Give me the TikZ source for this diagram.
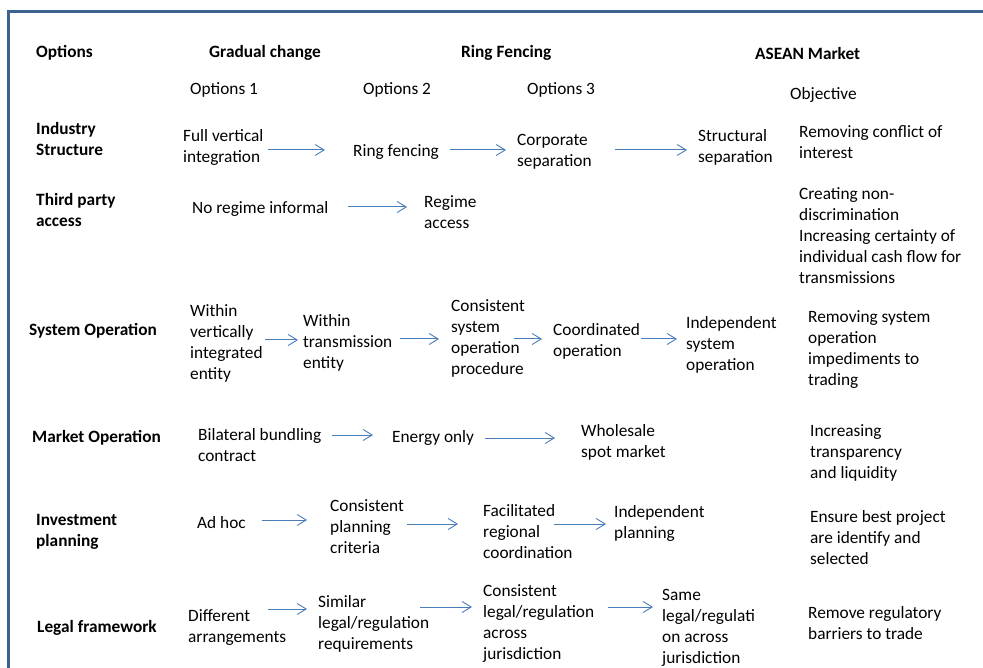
\documentclass[tikz,border=0pt]{standalone}
\usepackage{fontspec}
\setmainfont{Carlito}
\usetikzlibrary{arrows.meta}
\definecolor{framec}{RGB}{60,98,146}
\definecolor{arrc}{RGB}{74,126,187}
\newcommand\fsz{\fontsize{17.3}{21}\selectfont}
\tikzset{
  txt/.style={anchor=west, align=left, inner sep=0pt, yshift=-2pt, font=\fsz},
  hd/.style={anchor=west, align=left, inner sep=0pt, yshift=-2pt, font=\fsz\bfseries},
  arr/.style={draw=arrc, line width=1pt, -{Straight Barb[length=9pt,width=11pt,line width=0.9pt]}},
}
\begin{document}
\begin{tikzpicture}[x=1pt,y=-1pt]
\useasboundingbox (0,0) rectangle (983,668);
\fill[white] (0,0) rectangle (983,668);
\draw[framec, line width=3pt] (8,668) -- (8,12) -- (983,12);

% headers
\node[hd] (h1) at (36,51) {Options};
\node[hd] (h2) at (209,51) {Gradual change};
\node[hd] (h3) at (461,51) {Ring Fencing};
\node[hd] (h4) at (755,51) {ASEAN Market};
\node[txt] (o1) at (190,88) {Options 1};
\node[txt] (o2) at (363,88) {Options 2};
\node[txt] (o3) at (527,88) {Options 3};
\node[txt] (obj) at (790,93) {Objective};

% row labels
\node[hd] (r1) at (36,137) {Industry\\Structure};
\node[hd] (r2) at (36,208) {Third party\\access};
\node[hd] (r3) at (29,329) {System Operation};
\node[hd] (r4) at (32,436) {Market Operation};
\node[hd] (r5) at (36,530) {Investment\\planning};
\node[hd] (r6) at (37,626) {Legal framework};

% row 1
\node[txt] (a11) at (183,145) {Full vertical\\integration};
\node[txt] (a12) at (353,150) {Ring fencing};
\node[txt] (a13) at (517,150) {Corporate\\separation};
\node[txt] (a14) at (698,145) {Structural\\separation};
\node[txt] (g1) at (799,140) {Removing conflict of\\interest};
\coordinate (s11) at (268,150); \coordinate (e11) at (325,150);
\coordinate (s12) at (450,150); \coordinate (e12) at (506,150);
\coordinate (s13) at (615,150); \coordinate (e13) at (687,150);
\draw[arr] (s11) -- (e11);
\draw[arr] (s12) -- (e12);
\draw[arr] (s13) -- (e13);

% row 2
\node[txt] (a21) at (192,207) {No regime informal};
\node[txt] (a22) at (424,210) {Regime\\access};
\node[txt] (g2) at (799,234) {Creating non-\\discrimination\\Increasing certainty of\\individual cash flow for\\transmissions};
\coordinate (s21) at (348,207); \coordinate (e21) at (407,207);
\draw[arr] (s21) -- (e21);

% row 3
\node[txt] (a31) at (190,341) {Within\\vertically\\integrated\\entity};
\node[txt] (a32) at (303,341) {Within\\transmission\\entity};
\node[txt] (a33) at (451,336) {Consistent\\system\\operation\\procedure};
\node[txt] (a34) at (553,339) {Coordinated\\operation};
\node[txt] (a35) at (686,343) {Independent\\system\\operation};
\node[txt] (g3) at (808,348) {Removing system\\operation\\impediments to\\trading};
\coordinate (s31) at (265,340); \coordinate (e31) at (298,340);
\coordinate (s32) at (400,339); \coordinate (e32) at (439,339);
\coordinate (s33) at (514,339); \coordinate (e33) at (542,339);
\coordinate (s34) at (641,339); \coordinate (e34) at (677,339);
\draw[arr] (s31) -- (e31);
\draw[arr] (s32) -- (e32);
\draw[arr] (s33) -- (e33);
\draw[arr] (s34) -- (e34);

% row 4
\node[txt] (a41) at (198,443) {Bilateral bundling\\contract};
\node[txt] (a42) at (392,436) {Energy only};
\node[txt] (a43) at (581,440) {Wholesale\\spot market};
\node[txt] (g4) at (810,451) {Increasing\\transparency\\and liquidity};
\coordinate (s41) at (332,435); \coordinate (e41) at (373,435);
\coordinate (s42) at (485,438); \coordinate (e42) at (555,438);
\draw[arr] (s41) -- (e41);
\draw[arr] (s42) -- (e42);

% row 5
\node[txt] (a51) at (197,521) {Ad hoc};
\node[txt] (a52) at (330,525) {Consistent\\planning\\criteria};
\node[txt] (a53) at (483,530) {Facilitated\\regional\\coordination};
\node[txt] (a54) at (614,521) {Independent\\planning};
\node[txt] (g5) at (810,536) {Ensure best project\\are identify and\\selected};
\coordinate (s51) at (262,520); \coordinate (e51) at (307,520);
\coordinate (s52) at (407,524); \coordinate (e52) at (458,524);
\coordinate (s53) at (554,524); \coordinate (e53) at (606,524);
\draw[arr] (s51) -- (e51);
\draw[arr] (s52) -- (e52);
\draw[arr] (s53) -- (e53);

% row 6
\node[txt] (a61) at (188,626) {Different\\arrangements};
\node[txt] (a62) at (318,622) {Similar\\legal/regulation\\requirements};
\node[txt] (a63) at (483,622) {Consistent\\legal/regulation\\across\\jurisdiction};
\node[txt] (a64) at (662,626) {Same\\legal/regulati\\on across\\jurisdiction};
\node[txt] (g6) at (808,621) {Remove regulatory\\barriers to trade};
\coordinate (s61) at (268,609); \coordinate (e61) at (307,609);
\coordinate (s62) at (420,607); \coordinate (e62) at (472,607);
\coordinate (s63) at (608,607); \coordinate (e63) at (653,607);
\draw[arr] (s61) -- (e61);
\draw[arr] (s62) -- (e62);
\draw[arr] (s63) -- (e63);
\end{tikzpicture}
\end{document}
